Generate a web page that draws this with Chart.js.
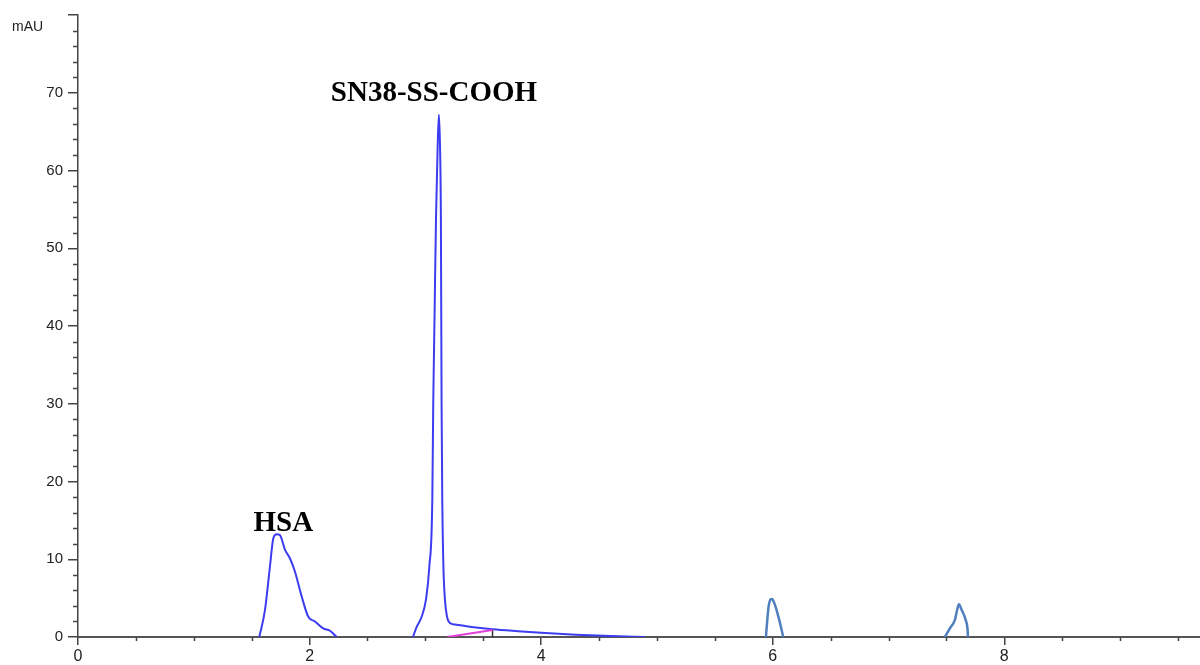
<!DOCTYPE html>
<html>
<head>
<meta charset="utf-8">
<script src="https://cdn.jsdelivr.net/npm/chart.js@4"></script>
<style>
  html, body { margin: 0; padding: 0; background: #fff; }
  #wrap { width: 1200px; height: 665px; }
</style>
</head>
<body>
<div id="wrap"><canvas id="chromChart" width="1200" height="665"></canvas></div>
<script>
// retention time (min) and absorbance (mAU)
const hsaTime   = [1.566, 1.615, 1.658, 1.687, 1.716, 1.744, 1.788, 1.831, 1.874, 1.932, 1.989, 2.047, 2.118, 2.176, 2.234];
const hsaSignal = [0, 3.5, 9.1, 12.7, 13.2, 13.1, 11.2, 10.1, 8.4, 5.2, 2.6, 2.0, 1.1, 0.8, 0];

const snTime   = [2.893, 2.925, 2.968, 3.005, 3.034, 3.060, 3.068, 3.080, 3.092, 3.106, 3.117, 3.128, 3.134, 3.140, 3.146, 3.156, 3.169, 3.187, 3.212, 3.256, 3.4, 3.58, 3.8, 4.0, 4.3, 4.6, 4.9];
const snSignal = [0, 1.3, 2.6, 4.8, 9, 17.7, 30, 42, 54, 63, 67.2, 62, 54, 30, 17.7, 9, 4.8, 2.6, 1.8, 1.6, 1.3, 1.0, 0.75, 0.55, 0.3, 0.12, 0];

const peak6Time   = [5.941, 5.952, 5.965, 5.985, 6.0, 6.02, 6.056, 6.091];
const peak6Signal = [0, 2.0, 4.0, 4.9, 4.8, 4.1, 2.2, 0];

const peak76Time   = [7.487, 7.53, 7.573, 7.593, 7.608, 7.631, 7.666, 7.683, 7.686];
const peak76Signal = [0, 1.1, 2.2, 3.5, 4.2, 3.5, 2.2, 0.9, 0];

const baselineTime   = [3.19, 3.58];
const baselineSignal = [0, 0.9];
const markTime   = [3.58, 3.58];
const markSignal = [0, 0.9];

const peakLabels = ['HSA', 'SN38-SS-COOH'];
const peakLabelPos = [[1.773, 13.57], [3.074, 69.0]];

const yUnit = 'mAU';

function pts(xs, ys) {
    return xs.map((x, i) => ({ x: x, y: ys[i] }));
}

function trace(xs, ys, color, width) {
    return {
        data: pts(xs, ys),
        showLine: true,
        borderColor: color,
        borderWidth: width,
        pointRadius: 0,
        cubicInterpolationMode: 'monotone',
        fill: false
    };
}

// minor ticks, peak names and the unit label
const extras = {
    id: 'extras',
    afterDraw(chart) {
        const ctx = chart.ctx;
        const xs = chart.scales.x;
        const ys = chart.scales.y;
        const area = chart.chartArea;
        ctx.save();
        ctx.strokeStyle = '#444';
        ctx.lineWidth = 1.5;
        ctx.beginPath();
        for (let v = 0.5; v < xs.max; v += 0.5) {
            if (v % 2 === 0) continue;
            const px = Math.round(xs.getPixelForValue(v)) + 0.5;
            ctx.moveTo(px, area.bottom);
            ctx.lineTo(px, area.bottom + 4);
        }
        for (let v = 2; v < ys.max; v += 2) {
            if (v % 10 === 0) continue;
            const py = Math.round(ys.getPixelForValue(v)) + 0.5;
            ctx.moveTo(area.left - 5, py);
            ctx.lineTo(area.left, py);
        }
        ctx.stroke();

        ctx.fillStyle = '#000';
        ctx.textAlign = 'center';
        ctx.textBaseline = 'alphabetic';
        ctx.font = 'bold 29px "Liberation Serif", "Times New Roman", serif';
        peakLabels.forEach((t, i) => {
            ctx.fillText(t, xs.getPixelForValue(peakLabelPos[i][0]), ys.getPixelForValue(peakLabelPos[i][1]));
        });

        ctx.fillStyle = '#222';
        ctx.textAlign = 'left';
        ctx.font = '14px "Liberation Sans", Arial, sans-serif';
        ctx.fillText(yUnit, 12, 31);
        ctx.restore();
    }
};

const ctx = document.getElementById('chromChart').getContext('2d');
window.chromChart = new Chart(ctx, {
    type: 'scatter',
    data: {
        datasets: [
            trace(baselineTime, baselineSignal, '#e040d8', 2),
            trace(markTime, markSignal, '#333', 1.5),
            trace(hsaTime, hsaSignal, '#3c3cf0', 2),
            trace(snTime, snSignal, '#3c3cf0', 2),
            trace(peak6Time, peak6Signal, '#4f7fbd', 2.5),
            trace(peak76Time, peak76Signal, '#4f7fbd', 2.5)
        ]
    },
    options: {
        responsive: false,
        animation: false,
        layout: { padding: { top: 15, right: 0, left: 0, bottom: 0 } },
        plugins: {
            legend: { display: false },
            tooltip: { enabled: false }
        },
        scales: {
            x: {
                type: 'linear',
                min: 0,
                max: 9.69,
                afterFit(scale) { scale.height = 28; },
                border: { display: true, color: '#555', width: 2 },
                grid: { display: true, drawOnChartArea: false, drawTicks: true, tickLength: 8, color: '#444', lineWidth: 1.5 },
                ticks: {
                    stepSize: 2,
                    includeBounds: false,
                    padding: 2,
                    color: '#222',
                    font: { family: '"Liberation Sans", Arial, sans-serif', size: 16 },
                    maxRotation: 0
                }
            },
            y: {
                type: 'linear',
                min: 0,
                max: 80,
                afterFit(scale) { scale.width = 78; },
                border: { display: true, color: '#444', width: 1.5 },
                grid: { display: true, drawOnChartArea: false, drawTicks: true, tickLength: 10, color: '#444', lineWidth: 1.5 },
                ticks: {
                    stepSize: 10,
                    padding: 5,
                    color: '#222',
                    font: { family: '"Liberation Sans", Arial, sans-serif', size: 15 },
                    callback: v => (v === 80 ? '' : v)
                }
            }
        }
    },
    plugins: [extras]
});
</script>
</body>
</html>
